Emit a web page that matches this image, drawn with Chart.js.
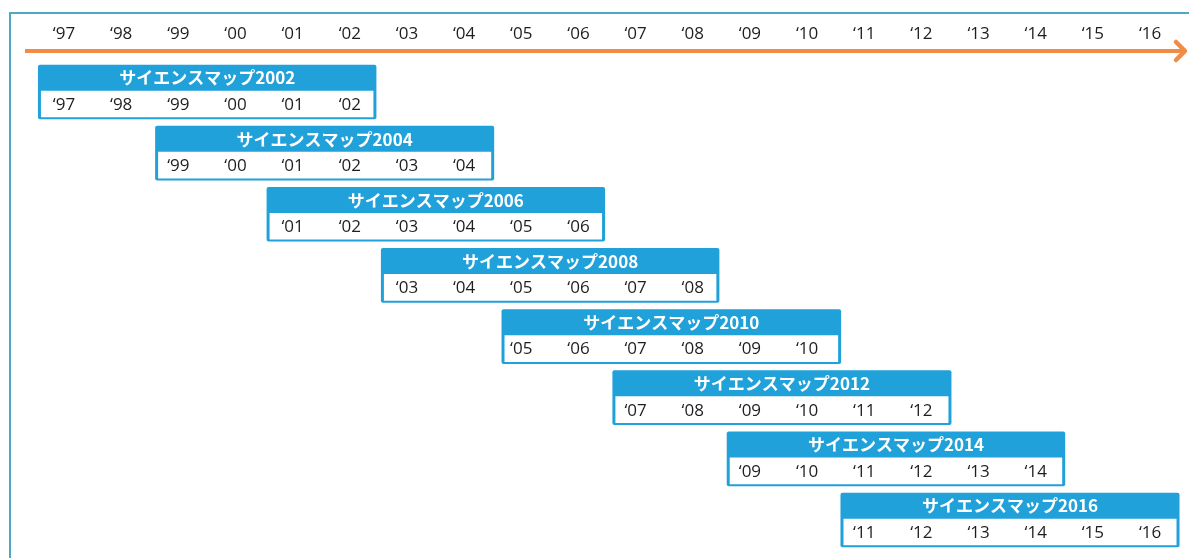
<!DOCTYPE html>
<html>
<head>
<meta charset="utf-8">
<script src="https://cdn.jsdelivr.net/npm/chart.js@4/dist/chart.umd.min.js"></script>
<style>
html,body{margin:0;padding:0;background:#fff;}
#wrap{position:relative;width:1189px;height:558px;}
canvas{display:block;}
</style>
</head>
<body>
<div id="wrap"><canvas id="c" width="1189" height="558"></canvas></div>
<script>
// ---- data ----
const timelineYears = [1997,1998,1999,2000,2001,2002,2003,2004,2005,2006,2007,2008,2009,2010,2011,2012,2013,2014,2015,2016];
const tickLabels = ['‘97','‘98','‘99','‘00','‘01','‘02','‘03','‘04','‘05','‘06','‘07','‘08','‘09','‘10','‘11','‘12','‘13','‘14','‘15','‘16'];
const mapNames = ['サイエンスマップ2002','サイエンスマップ2004','サイエンスマップ2006','サイエンスマップ2008','サイエンスマップ2010','サイエンスマップ2012','サイエンスマップ2014','サイエンスマップ2016'];
const coveredFrom = [1997,1999,2001,2003,2005,2007,2009,2011];
const coveredTo = [2002,2004,2006,2008,2010,2012,2014,2016];
const boxStart = [1996.55,1998.60,2000.55,2002.55,2004.66,2006.60,2008.60,2010.59];
const boxEnd = [2002.46,2004.52,2006.46,2008.46,2010.59,2012.52,2014.51,2016.51];

// ---- styles ----
const BLUE = '#21A1DA';
const ORANGE = '#F08C45';
const FRAME = '#4FA7C2';
const TEXT = '#1e1e1e';
const LABEL_FONT = '17px "Open Sans", "DejaVu Sans", sans-serif';
const TITLE_FONT = 'bold 17px "Noto Sans CJK JP", sans-serif';

const PX_PER_YEAR = 57.16;
const X_MIN = 1997 - 64 / PX_PER_YEAR;
const X_MAX = X_MIN + 1189 / PX_PER_YEAR;
const ROW_PX = 61.14;
const Y_MIN = -92 / ROW_PX;
const Y_MAX = Y_MIN + 558 / ROW_PX;
const INNER_OFFSET = 12 / ROW_PX;
const INSET = 3 / PX_PER_YEAR;

function yearLabel(y){ return tickLabels[timelineYears.indexOf(y)]; }

const outerData = mapNames.map((n,i)=>({x:[boxStart[i], boxEnd[i]], y:i}));
const innerData = mapNames.map((n,i)=>({x:[boxStart[i]+INSET, boxEnd[i]-INSET], y:i+INNER_OFFSET}));

const decorPlugin = {
  id:'decor',
  beforeDraw(chart){
    const ctx = chart.ctx, W = chart.width, H = chart.height;
    ctx.save();
    ctx.strokeStyle = FRAME; ctx.lineWidth = 2;
    ctx.beginPath();
    ctx.moveTo(10, H); ctx.lineTo(10, 13); ctx.lineTo(W, 13);
    ctx.stroke();
    // timeline arrow
    const x0 = 25, x1 = 1184, ya = 51;
    ctx.strokeStyle = ORANGE; ctx.lineWidth = 4; ctx.lineCap = 'butt';
    ctx.beginPath(); ctx.moveTo(x0, ya); ctx.lineTo(x1, ya); ctx.stroke();
    ctx.lineWidth = 4.5; ctx.lineCap = 'round'; ctx.lineJoin = 'round';
    ctx.beginPath(); ctx.moveTo(1176, ya-9); ctx.lineTo(x1+1, ya); ctx.lineTo(1176, ya+9); ctx.stroke();
    // top tick labels
    const xs = chart.scales.x;
    ctx.fillStyle = TEXT; ctx.font = LABEL_FONT; ctx.textAlign = 'center'; ctx.textBaseline = 'middle';
    timelineYears.forEach((y,k)=>{ ctx.fillText(tickLabels[k], xs.getPixelForValue(y), 34); });
    ctx.restore();
  },
  afterDatasetsDraw(chart){
    const ctx = chart.ctx, xs = chart.scales.x, ys = chart.scales.y;
    ctx.save();
    ctx.textAlign = 'center'; ctx.textBaseline = 'middle';
    mapNames.forEach((name,i)=>{
      const cy = ys.getPixelForValue(i);
      const cx = (xs.getPixelForValue(boxStart[i]) + xs.getPixelForValue(boxEnd[i]))/2;
      ctx.fillStyle = '#ffffff'; ctx.font = TITLE_FONT;
      ctx.fillText(name, cx, cy - 14);
      ctx.fillStyle = TEXT; ctx.font = LABEL_FONT;
      const iy = ys.getPixelForValue(i + INNER_OFFSET);
      for (let y = coveredFrom[i]; y <= coveredTo[i]; y++) {
        ctx.fillText(yearLabel(y), xs.getPixelForValue(y), iy + 1);
      }
    });
    ctx.restore();
  }
};

new Chart(document.getElementById('c'), {
  type:'bar',
  data:{
    datasets:[
      {label:'years', data: innerData, backgroundColor: '#ffffff', barThickness: 26, grouped:false, borderWidth:0, order:0},
      {label:'map', data: outerData, backgroundColor: BLUE, barThickness: 54, grouped:false, borderWidth:0, borderRadius:2, borderSkipped:false, order:1}
    ]
  },
  options:{
    responsive:false, animation:false, devicePixelRatio:1,
    indexAxis:'y',
    layout:{padding:0},
    plugins:{legend:{display:false}, tooltip:{enabled:false}},
    scales:{
      x:{type:'linear', min:X_MIN, max:X_MAX, display:false, offset:false},
      y:{type:'linear', min:Y_MIN, max:Y_MAX, reverse:true, display:false, offset:false}
    }
  },
  plugins:[decorPlugin]
});
</script>
</body>
</html>
